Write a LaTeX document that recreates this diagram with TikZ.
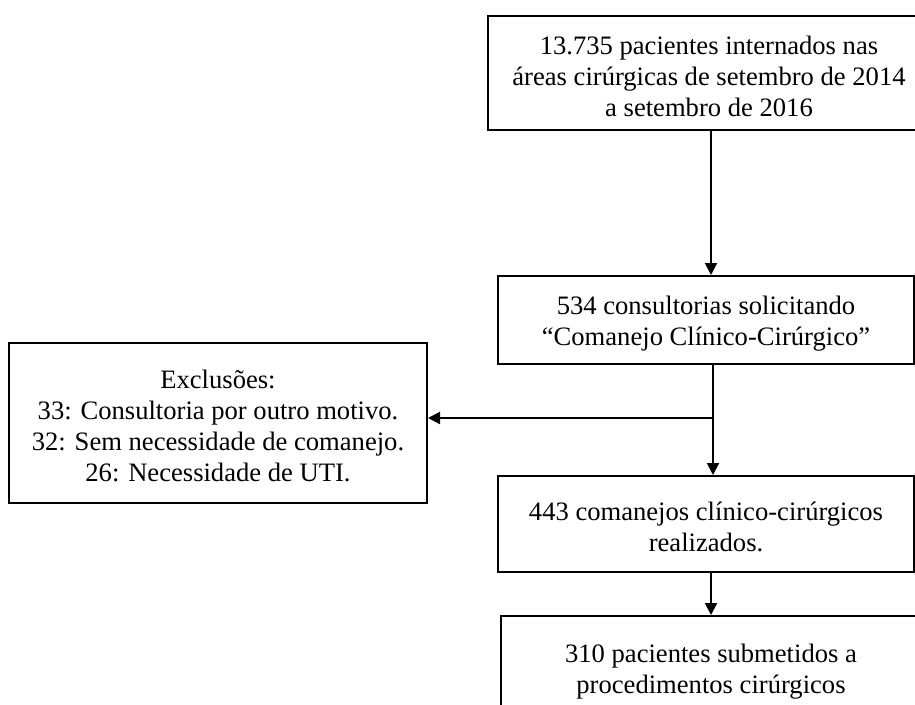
\documentclass[tikz,border=0pt]{standalone}
\usepackage{fontspec}
\setmainfont{Liberation Serif}
\usetikzlibrary{arrows.meta,calc}
\newcommand{\tstrut}{\rule{0pt}{25pt}}
\begin{document}
\begin{tikzpicture}[x=1pt,y=-1pt,
  box/.style={draw, line width=2pt, rectangle, inner sep=0pt, align=center,
              font=\fontsize{26.6}{31}\selectfont},
  conn/.style={line width=2pt, -{Triangle[length=12pt,width=12pt]}}]
\useasboundingbox (0,0) rectangle (915,704);
\clip (0,0) rectangle (915,704);
\node[box, minimum width=442pt, minimum height=114pt] (b1) at (709,73)
  {\tstrut 13.735 pacientes internados nas\\ áreas cirúrgicas de setembro de 2014\\ a setembro de 2016};
\node[box, minimum width=416pt, minimum height=88pt] (b2) at (706,320)
  {\tstrut 534 consultorias solicitando\\ “Comanejo Clínico-Cirúrgico”};
\node[box, minimum width=418pt, minimum height=160pt] (ex) at (218,423)
  {\tstrut Exclusões:\\ 33: Consultoria por outro motivo.\\ 32: Sem necessidade de comanejo.\\ 26: Necessidade de UTI.};
\node[box, minimum width=416pt, minimum height=96pt] (b4) at (706,524)
  {\tstrut 443 comanejos clínico-cirúrgicos\\ realizados.};
\node[box, minimum width=420pt, minimum height=104pt] (b5) at (711,668)
  {\tstrut 310 pacientes submetidos a\\ procedimentos cirúrgicos};
\coordinate (j) at (713,418);
\draw[conn] (b1.south -| b5.north) -- (b2.north -| b5.north);
\draw[conn] (b2.south -| j) -- (b4.north -| j);
\draw[conn] (j) -- (j -| ex.east);
\draw[conn] (b4.south -| b5.north) -- (b5.north);
\end{tikzpicture}
\end{document}
